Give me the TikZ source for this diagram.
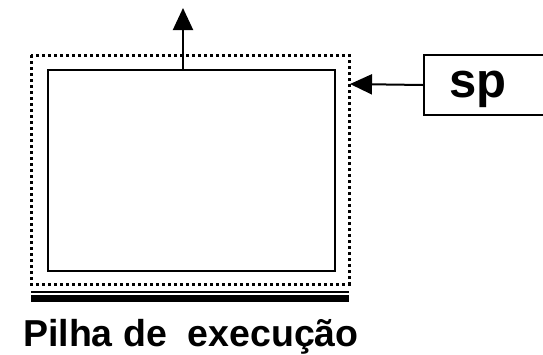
\documentclass[tikz,border=0pt]{standalone}
\usepackage{fontspec}
\setmainfont{Liberation Sans}
\usetikzlibrary{arrows.meta}
\begin{document}
\begin{tikzpicture}[x=1pt,y=-1pt,
  frame/.style={draw,line width=2pt},
  dotbox/.style={draw,line width=3pt,dash pattern=on 3pt off 3pt},
  conn/.style={draw,line width=2pt,-{Triangle[length=22pt,width=20pt]}},
  lbl/.style={font=\bfseries\fontsize{37.5}{40}\selectfont,inner sep=0pt}]
\useasboundingbox (0,0) rectangle (543,354);
\draw[dotbox] (31,55) rectangle (349,284);
\node[frame,minimum width=287pt,minimum height=201pt,inner sep=0pt,anchor=north west] (stack) at (47,69) {};
\coordinate (top) at (183,8);
\draw[conn] (top |- stack.north) -- (top);
\node[frame,minimum width=120pt,minimum height=60pt,inner sep=0pt,anchor=north west] (sp) at (423,54) {};
\node[lbl,font=\bfseries\fontsize{49}{52}\selectfont,anchor=base west] (sptext) at (449,97) {sp};
\coordinate (dr) at (350,84);
\draw[conn] (sp.west) -- (dr);
\draw[line width=2pt] (31,292) -- (349,292);
\fill (31,295) rectangle (349,302);
\node[lbl,anchor=base west] (title) at (23,346) {Pilha de\ \ execução};
\end{tikzpicture}
\end{document}
